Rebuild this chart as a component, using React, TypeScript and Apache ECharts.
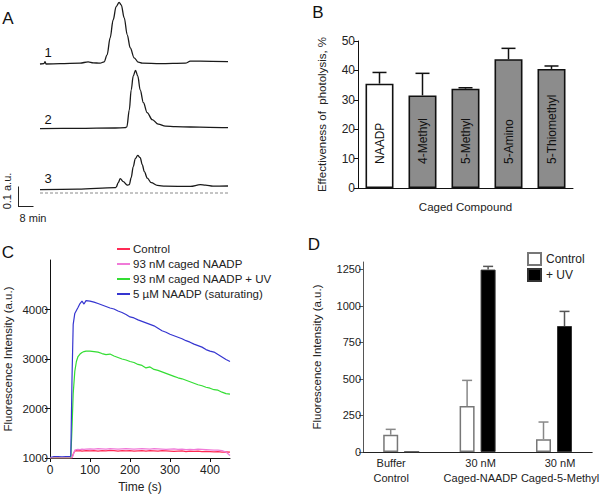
import React, { useEffect, useRef } from "react";
import * as echarts from "echarts";

const FONT = '"Liberation Sans", Arial, Helvetica, sans-serif';

// ---------- Panel A : chromatograms (time in min, absorbance in a.u.) ----------
const traceATime1 = [0, 2.1, 2.7, 3.2, 10.7, 21.3, 25.6, 28.3, 32, 34.1, 35.7, 37.3, 38.9, 40.5, 42.1, 43.2, 44.8, 46.4, 48, 50.1, 52.3, 54.4, 64, 77.3, 80, 85.3, 100];
const traceAValue1 = [0, 0.002, 0.012, 0, 0.0015, 0.004, 0.011, 0.006, 0.004, 0.011, 0.046, 0.13, 0.22, 0.287, 0.308, 0.296, 0.231, 0.146, 0.081, 0.031, 0.009, 0.004, 0.0015, 0.004, 0.014, 0.014, 0.0115];
const traceATime2 = [0, 20, 40, 45.3, 46.2, 47.5, 48.5, 49.6, 50.8, 52, 53.3, 55, 57, 59.7, 62.9, 66.7, 72, 80, 90, 100];
const traceAValue2 = [-0.003, -0.002, 0, 0.0015, 0.006, 0.09, 0.19, 0.26, 0.288, 0.26, 0.19, 0.127, 0.077, 0.042, 0.019, 0.009, 0.0065, 0.005, 0.0035, 0.0015];
const traceATime3 = [0, 20, 40, 40.5, 41.6, 42.7, 44.3, 46.4, 47.5, 48.5, 49.6, 50.7, 52, 53.3, 54.4, 55.5, 57.1, 59.2, 62.4, 66.7, 80, 85.3, 88, 92, 100];
const traceAValue3 = [0.0165, 0.019, 0.0265, 0.029, 0.0515, 0.0715, 0.0565, 0.039, 0.0415, 0.0765, 0.1315, 0.1715, 0.188, 0.1765, 0.1415, 0.1065, 0.074, 0.0515, 0.038, 0.034, 0.033, 0.0415, 0.039, 0.034, 0.035];
const traceLabels = ["1", "2", "3"];

// ---------- Panel B ----------
const bCategories = ["NAADP", "4-Methyl", "5-Methyl", "5-Amino", "5-Thiomethyl"];
const bMeans = [35.5, 31.5, 33.8, 43.8, 40.5];
const bUpper = [39.3, 39.0, 34.1, 47.5, 41.5];

// ---------- Panel C ----------
const cTime = [0, 10, 20, 30, 40, 50, 52, 55, 58, 62, 66, 70, 75, 80, 85, 90, 100, 110, 120, 130, 140, 150, 160, 170, 180, 190, 200, 210, 220, 230, 240, 250, 260, 270, 280, 290, 300, 310, 320, 330, 340, 350, 360, 370, 380, 390, 400, 410, 420, 430, 440, 450];
const cControl = [1000, 1000, 1005, 1000, 1000, 1000, 1000, 1000, 1080, 1140, 1150, 1145, 1150, 1140, 1145, 1150, 1145, 1150, 1140, 1150, 1145, 1155, 1150, 1140, 1150, 1145, 1150, 1140, 1145, 1150, 1140, 1150, 1145, 1140, 1150, 1145, 1140, 1135, 1140, 1145, 1130, 1140, 1135, 1140, 1130, 1135, 1130, 1125, 1130, 1120, 1125, 1120];
const cCaged = [1000, 1000, 1000, 1000, 1000, 1000, 1000, 1000, 1060, 1160, 1170, 1175, 1170, 1180, 1175, 1180, 1185, 1180, 1190, 1185, 1180, 1190, 1185, 1180, 1185, 1190, 1185, 1180, 1185, 1190, 1185, 1180, 1190, 1185, 1180, 1175, 1180, 1185, 1175, 1180, 1170, 1175, 1170, 1180, 1175, 1170, 1165, 1160, 1160, 1150, 1120, 1050];
const cCagedUV = [1000, 1000, 1000, 1000, 1000, 1000, 1010, 1600, 2300, 2750, 2950, 3050, 3100, 3130, 3150, 3160, 3160, 3150, 3140, 3110, 3090, 3100, 3060, 3030, 3000, 2980, 2950, 2930, 2890, 2870, 2820, 2840, 2790, 2770, 2740, 2710, 2680, 2650, 2620, 2600, 2570, 2540, 2510, 2480, 2460, 2430, 2410, 2380, 2370, 2330, 2300, 2290];
const cSaturating = [1010, 1030, 1030, 1025, 1030, 1030, 1040, 2600, 3700, 3920, 3980, 4040, 4120, 4170, 4110, 4180, 4170, 4150, 4120, 4090, 4060, 4030, 4010, 3970, 3940, 3900, 3850, 3830, 3790, 3760, 3730, 3700, 3670, 3620, 3570, 3540, 3500, 3470, 3440, 3410, 3370, 3340, 3300, 3270, 3240, 3190, 3160, 3140, 3090, 3040, 2990, 2950];
const cNames = ["Control", "93 nM caged NAADP", "93 nM caged NAADP + UV", "5 µM NAADP (saturating)"];
const cColors = ["#ff2a55", "#f07ad8", "#33dd33", "#3535d0"];
const cYTicks = [1000, 2000, 3000, 4000];
const cXTicks = [0, 100, 200, 300, 400];

// ---------- Panel D ----------
const dCategories = ["Buffer\nControl", "30 nM\nCaged-NAADP", "30 nM\nCaged-5-Methyl"];
const dSeriesNames = ["Control", "+ UV"];
const dControl = [118, 315, 88];
const dControlUpper = [155, 490, 205];
const dUV = [0, 1248, 862];
const dUVUpper = [0, 1270, 962];
const dYTicks = [0, 250, 500, 750, 1000, 1250];
const dLabelPadding = [[0, 20, 0, 0], [0, 0, 0, 6], [0, 0, 0, 12]];

const axisText = { color: "#222", fontFamily: FONT, fontSize: 11.5 };
const plain = (v: number) => String(v);

function errorBarSeries(name: string, xAxisIndex: number, yAxisIndex: number, means: number[], upper: number[], offset: number, cap: number, color: string) {
  return {
    type: "custom",
    name,
    xAxisIndex,
    yAxisIndex,
    z: 5,
    silent: true,
    data: means.map((m, i) => [i, m, upper[i]]),
    renderItem: (params: any, api: any) => {
      const idx = api.value(0);
      const m = api.value(1);
      const u = api.value(2);
      if (!(u > m)) return null;
      const base = api.coord([idx, m]);
      const top = api.coord([idx, u]);
      const x = base[0] + offset;
      const st = { stroke: color, lineWidth: 1.5 };
      return {
        type: "group",
        children: [
          { type: "line", shape: { x1: x, y1: base[1], x2: x, y2: top[1] }, style: st },
          { type: "line", shape: { x1: x - cap / 2, y1: top[1], x2: x + cap / 2, y2: top[1] }, style: st },
        ],
      };
    },
  };
}

function pairs(t: number[], v: number[]) {
  return t.map((x, i) => [x, v[i]]);
}

export default function App() {
  const ref = useRef<HTMLDivElement>(null);
  useEffect(() => {
    if (!ref.current) return;
    const chart = echarts.init(ref.current, null, { renderer: "svg" });

    const aGridTops = [0, 64, 129];
    const aTraces = [pairs(traceATime1, traceAValue1), pairs(traceATime2, traceAValue2), pairs(traceATime3, traceAValue3)];

    const grids: any[] = aGridTops.map((top) => ({ left: 40, top, width: 188, height: 70 }));
    grids.push({ left: 358, top: 41, width: 215, height: 147 }); // B: 3
    grids.push({ left: 50, top: 260, width: 180, height: 198 }); // C: 4
    grids.push({ left: 363, top: 262, width: 230, height: 190 }); // D: 5

    const xAxes: any[] = aGridTops.map((_, i) => ({ type: "value", gridIndex: i, min: 0, max: 100, show: false }));
    const yAxes: any[] = aGridTops.map((_, i) => ({ type: "value", gridIndex: i, min: -0.03, max: 0.32, show: false }));

    // B axes
    xAxes.push({
      type: "category",
      gridIndex: 3,
      data: bCategories,
      axisLine: { lineStyle: { color: "#111", width: 1 } },
      axisTick: { show: false },
      axisLabel: { show: false },
      name: "Caged Compound",
      nameLocation: "middle",
      nameGap: 13,
      nameTextStyle: { ...axisText, fontSize: 11.5 },
    });
    yAxes.push({
      type: "value",
      gridIndex: 3,
      min: 0,
      max: 50,
      interval: 10,
      splitLine: { show: false },
      axisLine: { show: true, lineStyle: { color: "#111", width: 1 } },
      axisTick: { show: true, length: 4, lineStyle: { color: "#111" } },
      axisLabel: { ...axisText, fontSize: 12, margin: 3 },
      name: "Effectiveness of  photolysis, %",
      nameLocation: "middle",
      nameGap: 30,
      nameTextStyle: { ...axisText, fontSize: 11.5 },
    });

    // C axes
    xAxes.push({
      type: "value",
      gridIndex: 4,
      min: 0,
      max: 450,
      splitLine: { show: false },
      axisLine: { onZero: false, lineStyle: { color: "#111", width: 1 } },
      axisTick: { show: true, length: 4, customValues: cXTicks, lineStyle: { color: "#111" } },
      axisLabel: { ...axisText, fontSize: 12, margin: 6, customValues: cXTicks, formatter: plain },
      name: "Time (s)",
      nameLocation: "middle",
      nameGap: 23,
      nameTextStyle: { ...axisText, fontSize: 12 },
    });
    yAxes.push({
      type: "value",
      gridIndex: 4,
      min: 1000,
      max: 5000,
      splitLine: { show: false },
      axisLine: { show: true, lineStyle: { color: "#111", width: 1 } },
      axisTick: { show: true, length: 5, customValues: cYTicks, lineStyle: { color: "#111" } },
      axisLabel: { ...axisText, fontSize: 11.5, margin: 2, customValues: cYTicks, formatter: plain },
      name: "Fluorescence Intensity (a.u.)",
      nameLocation: "middle",
      nameGap: 36,
      nameTextStyle: { ...axisText, fontSize: 11.5 },
    });

    // D axes
    xAxes.push({
      type: "category",
      gridIndex: 5,
      data: dCategories.map((c, i) => ({ value: c, textStyle: { padding: dLabelPadding[i] } })),
      axisLine: { lineStyle: { color: "#222", width: 1 } },
      axisTick: { show: false },
      axisLabel: { ...axisText, fontSize: 11, lineHeight: 15, margin: 3, interval: 0, hideOverlap: false },
    });
    yAxes.push({
      type: "value",
      gridIndex: 5,
      min: 0,
      max: 1300,
      splitLine: { show: false },
      axisLine: { show: true, lineStyle: { color: "#555", width: 1 } },
      axisTick: { show: true, length: 4, customValues: dYTicks, lineStyle: { color: "#555" } },
      axisLabel: { ...axisText, fontSize: 11, margin: 2, customValues: dYTicks, formatter: plain },
      name: "Fluorescence Intensity (a.u.)",
      nameLocation: "middle",
      nameGap: 40,
      nameTextStyle: { ...axisText, fontSize: 11.5 },
    });

    const series: any[] = [];
    aTraces.forEach((d, i) => {
      series.push({
        type: "line",
        name: "trace" + traceLabels[i],
        xAxisIndex: i,
        yAxisIndex: i,
        data: d,
        symbol: "none",
        smooth: 0.35,
        smoothMonotone: "x",
        lineStyle: { color: "#1a1a1a", width: 1.3 },
        silent: true,
      });
    });
    series.push({
      type: "line",
      name: "zero",
      xAxisIndex: 2,
      yAxisIndex: 2,
      data: [[0, 0], [100, 0]],
      symbol: "none",
      lineStyle: { color: "#8a8a8a", width: 1, type: [3, 2] },
      silent: true,
    });

    // B bars
    series.push({
      type: "bar",
      name: "B",
      xAxisIndex: 3,
      yAxisIndex: 3,
      barWidth: 28,
      data: bMeans.map((v, i) => ({ value: v, itemStyle: { color: i === 0 ? "#ffffff" : "#8c8c8c" } })),
      itemStyle: { borderColor: "#111", borderWidth: 1.6 },
      label: {
        show: true,
        position: "insideBottom",
        distance: 24,
        rotate: 90,
        align: "left",
        verticalAlign: "middle",
        formatter: (p: any) => bCategories[p.dataIndex],
        color: "#111",
        fontFamily: FONT,
        fontSize: 12,
      },
      silent: true,
    });
    series.push(errorBarSeries("Berr", 3, 3, bMeans, bUpper, 0, 14, "#111"));

    // C lines
    const cData = [cControl, cCaged, cCagedUV, cSaturating];
    cData.forEach((vals, i) => {
      series.push({
        type: "line",
        name: cNames[i],
        xAxisIndex: 4,
        yAxisIndex: 4,
        data: pairs(cTime, vals),
        symbol: "none",
        lineStyle: { color: cColors[i], width: 1.2 },
        itemStyle: { color: cColors[i] },
        z: i === 1 ? 3 : 2,
      });
    });

    // D bars (internal ids distinct from panel C names)
    series.push({
      type: "bar",
      name: "D:" + dSeriesNames[0],
      xAxisIndex: 5,
      yAxisIndex: 5,
      barWidth: 15,
      barGap: "40%",
      data: dControl,
      itemStyle: { color: "#ffffff", borderColor: "#777", borderWidth: 1.5 },
    });
    series.push({
      type: "bar",
      name: "D:" + dSeriesNames[1],
      xAxisIndex: 5,
      yAxisIndex: 5,
      barWidth: 15,
      barGap: "40%",
      data: dUV,
      itemStyle: { color: "#000000", borderColor: "#333", borderWidth: 1 },
    });
    series.push(errorBarSeries("DerrC", 5, 5, dControl, dControlUpper, -10.5, 10, "#888"));
    series.push(errorBarSeries("DerrU", 5, 5, dUV, dUVUpper, 10.5, 10, "#555"));

    const panelLetter = (t: string, x: number, y: number) => ({
      type: "text",
      x,
      y,
      style: { text: t, font: `17px ${FONT}`, fill: "#111", textAlign: "center", textVerticalAlign: "middle" },
    });

    const option: any = {
      animation: false,
      backgroundColor: "#ffffff",
      textStyle: { fontFamily: FONT },
      grid: grids,
      xAxis: xAxes,
      yAxis: yAxes,
      series,
      legend: [
        {
          data: cNames,
          orient: "vertical",
          left: 112,
          top: 238,
          icon: "rect",
          itemWidth: 13,
          itemHeight: 2,
          itemGap: 3,
          textStyle: { color: "#222", fontFamily: FONT, fontSize: 11.5, padding: [0, 0, 0, -2] },
          selectedMode: false,
        },
        {
          data: dSeriesNames.map((n) => "D:" + n),
          formatter: (n: string) => n.slice(2),
          orient: "vertical",
          left: 522,
          top: 247,
          itemWidth: 13,
          itemHeight: 12,
          itemGap: 2,
          icon: "rect",
          textStyle: { color: "#222", fontFamily: FONT, fontSize: 12 },
          selectedMode: false,
        },
      ],
      graphic: [
        panelLetter("A", 8, 18),
        panelLetter("B", 318, 12),
        panelLetter("C", 8, 252),
        panelLetter("D", 314, 244),
        ...traceLabels.map((t, i) => ({
          type: "text",
          x: 48,
          y: [52, 119, 178][i],
          style: { text: t, font: `13px ${FONT}`, fill: "#111", textAlign: "center", textVerticalAlign: "middle" },
        })),
        { type: "line", shape: { x1: 18.5, y1: 186.5, x2: 18.5, y2: 207 }, style: { stroke: "#222", lineWidth: 1 } },
        { type: "line", shape: { x1: 18.5, y1: 206.5, x2: 33.5, y2: 206.5 }, style: { stroke: "#222", lineWidth: 1 } },
        {
          type: "text",
          x: 7,
          y: 191,
          rotation: Math.PI / 2,
          style: { text: "0.1 a.u.", font: `11px ${FONT}`, fill: "#222", textAlign: "center", textVerticalAlign: "middle" },
        },
        {
          type: "text",
          x: 33,
          y: 218,
          style: { text: "8 min", font: `11px ${FONT}`, fill: "#222", textAlign: "center", textVerticalAlign: "middle" },
        },
      ],
    };
    chart.setOption(option);
    return () => chart.dispose();
  }, []);

  return <div ref={ref} style={{ position: "fixed", left: 0, top: 0, width: 602, height: 494, background: "#fff" }} />;
}
